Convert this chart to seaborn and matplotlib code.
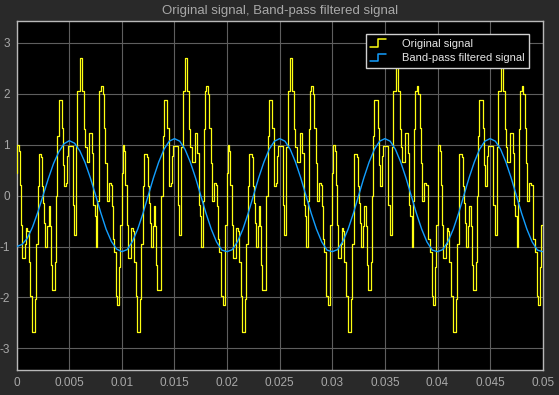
import numpy as np
import pandas as pd
import matplotlib
matplotlib.use("Agg")
import matplotlib.pyplot as plt
import seaborn as sns
from matplotlib.legend_handler import HandlerLine2D
from matplotlib.lines import Line2D

# ---- data ----
period_ms = 10.0
n_periods = 5
# one period of the sampled original signal: step start times (ms) and held values
orig_t_ms = [0.000, 0.060, 0.219, 0.314, 0.440, 0.535, 0.821, 0.884, 1.011, 1.138,
             1.296, 1.454, 1.740, 1.835, 2.025, 2.088, 2.342, 2.437, 2.532, 2.627,
             2.722, 2.912, 3.039, 3.165, 3.260, 3.356, 3.672, 3.736, 3.862, 3.989,
             4.306, 4.433, 4.496, 4.686, 4.750, 4.845, 5.320, 5.447, 5.637, 5.764,
             6.017, 6.207, 6.397, 6.492, 6.651, 6.904, 7.158, 7.284, 7.411, 7.538,
             7.665, 7.792, 7.855, 8.013, 8.172, 8.298, 8.425, 8.552, 8.742, 8.932,
             9.059, 9.122, 9.249, 9.439, 9.566, 9.756, 9.819]
orig_v = [0.45, 1.00, 0.87, 0.20, -0.57, -1.22, -0.94, -0.63, -0.70, -1.30,
          -1.98, -2.67, -2.04, -0.94, 0.18, 0.82, 0.75, 0.18, -0.14, -0.54,
          -1.00, -0.60, -0.20, -0.60, -1.36, -1.85, -1.30, 0.00, 1.17, 1.87,
          1.33, 0.60, 0.18, 0.25, 0.77, 0.98, -0.18, -0.77, 0.95, 2.05,
          2.70, 2.05, 1.30, 0.95, 0.67, 1.23, 0.84, -0.18, -0.40, -1.00,
          -0.10, 1.30, 2.05, 2.15, 2.00, 1.33, 0.64, -0.10, 0.25, 0.20,
          -0.20, -0.86, -1.10, -1.98, -2.14, -1.40, -0.57]

# band-pass filtered signal, read every 0.5 ms from 0 to 50 ms
bp_t_ms = [i * 0.5 for i in range(101)]
bp_v = [-1.00, -0.96, -0.84, -0.62, -0.33, 0.00, 0.33, 0.63, 0.86, 1.02,
        1.08, 1.03, 0.88, 0.65, 0.35, 0.01, -0.34, -0.66, -0.90, -1.05,
        -1.10, -1.06, -0.90, -0.66, -0.35, 0.00, 0.35, 0.66, 0.91, 1.07,
        1.12, 1.07, 0.91, 0.66, 0.35, 0.00, -0.35, -0.66, -0.91, -1.07,
        -1.10, -1.06, -0.90, -0.66, -0.35, 0.00, 0.35, 0.66, 0.91, 1.07,
        1.12, 1.07, 0.91, 0.66, 0.35, 0.00, -0.35, -0.66, -0.91, -1.07,
        -1.10, -1.06, -0.90, -0.66, -0.35, 0.00, 0.35, 0.66, 0.91, 1.07,
        1.12, 1.07, 0.91, 0.66, 0.35, 0.00, -0.35, -0.66, -0.91, -1.07,
        -1.10, -1.06, -0.90, -0.66, -0.35, 0.00, 0.35, 0.66, 0.91, 1.07,
        1.12, 1.07, 0.91, 0.66, 0.35, 0.00, -0.35, -0.66, -0.91, -1.07,
        -1.10]

x_ticks = [0, 0.005, 0.01, 0.015, 0.02, 0.025, 0.03, 0.035, 0.04, 0.045, 0.05]
x_tick_labels = ["0", "0.005", "0.01", "0.015", "0.02", "0.025", "0.03",
                 "0.035", "0.04", "0.045", "0.05"]
y_ticks = [-3, -2, -1, 0, 1, 2, 3]
y_tick_labels = ["-3", "-2", "-1", "0", "1", "2", "3"]
title = "Original signal, Band-pass filtered signal"
series_names = ["Original signal", "Band-pass filtered signal"]

# ---- build tables ----
t_all, v_all = [], []
for k in range(n_periods):
    t_all += [(t + k * period_ms) / 1000.0 for t in orig_t_ms]
    v_all += orig_v
t_all.append(n_periods * period_ms / 1000.0)
v_all.append(orig_v[-1])
df_orig = pd.DataFrame({"t": t_all, "v": v_all})
df_bp = pd.DataFrame({"t": [t / 1000.0 for t in bp_t_ms], "v": bp_v})

# ---- style ----
sns.set_theme(style="dark")
plt.rcParams["font.family"] = ["Liberation Sans", "DejaVu Sans"]
fig_bg = "#292929"
text_col = "#a8a8a8"
yellow = "#FFFF11"
blue = "#139FFF"

fig = plt.figure(figsize=(5.59, 3.95), dpi=100, facecolor=fig_bg)
ax = fig.add_axes([16.7 / 559, 25 / 395, (542.7 - 16.7) / 559, (370 - 21.3) / 395])
ax.set_facecolor("black")

sns.lineplot(data=df_orig, x="t", y="v", ax=ax, color=yellow, lw=0.9,
             drawstyle="steps-post", estimator=None, sort=False, zorder=3)
sns.lineplot(data=df_bp, x="t", y="v", ax=ax, color=blue, lw=1.0,
             estimator=None, sort=False, zorder=4)

ax.set_xlim(0, 0.05)
ax.set_ylim(-3.425, 3.425)
ax.set_xticks(x_ticks)
ax.set_xticklabels(x_tick_labels)
ax.set_yticks(y_ticks)
ax.set_yticklabels(y_tick_labels)
ax.set_xlabel("")
ax.set_ylabel("")
ax.grid(True, color="#5e5e5e", lw=0.8)
ax.tick_params(axis="both", colors=text_col, labelsize=8.5, length=0, pad=5)
for s in ax.spines.values():
    s.set_visible(True)
    s.set_color("#b8b8b8")
    s.set_linewidth(1.0)
ax.set_title(title, color=text_col, fontsize=9.5, pad=5)


class StepHandler(HandlerLine2D):
    def create_artists(self, legend, orig_handle, xdescent, ydescent, width,
                       height, fontsize, trans):
        w = width * 0.58
        x0 = -xdescent
        xm = x0 + w * 0.47
        y0 = -ydescent + height * 0.0
        y1 = -ydescent + height * 0.95
        ln = Line2D([x0, xm, xm, x0 + w], [y0, y0, y1, y1],
                    color=orig_handle.get_color(), lw=1.1)
        ln.set_transform(trans)
        return [ln]


handles = [Line2D([], [], color=yellow), Line2D([], [], color=blue)]
leg = ax.legend(handles, series_names, loc="upper right",
                bbox_to_anchor=((529 - 16.7) / 526, (370 - 34.3) / 348.7),
                borderaxespad=0, fontsize=8, frameon=True,
                fancybox=False, handlelength=2.45, handletextpad=0.4,
                borderpad=0.4, labelspacing=0.42,
                handler_map={Line2D: StepHandler()})
leg.get_frame().set_facecolor("black")
leg.get_frame().set_edgecolor("#d0d0d0")
leg.get_frame().set_alpha(1)
leg.get_frame().set_linewidth(1.0)
for txt in leg.get_texts():
    txt.set_color("#e6e6e6")

fig.savefig("out.png", dpi=100, facecolor=fig_bg)
